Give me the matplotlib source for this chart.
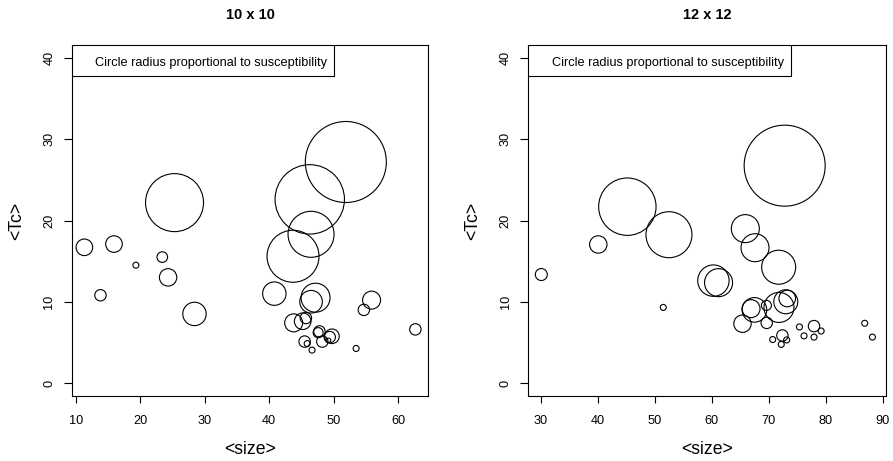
import matplotlib
matplotlib.use('Agg')
import numpy as np
from matplotlib import pyplot as plt
from matplotlib.patches import Rectangle

plt.rcParams['font.family'] = ['Liberation Sans', 'DejaVu Sans']

# lattice 10 x 10: mean cluster size, mean Tc, susceptibility (arbitrary units)
size_10 = [51.9, 46.3, 25.3, 46.5, 43.7, 11.3, 15.9, 19.3, 23.4, 24.3,
           13.8, 28.4, 40.8, 47.2, 46.5, 55.9, 54.7, 43.8, 45.2, 45.7,
           47.8, 47.6, 49.75, 49.4, 49.2, 48.25, 45.5, 45.9, 46.65, 53.5, 62.7]
tc_10 = [27.2, 22.6, 22.2, 18.3, 15.6, 16.7, 17.1, 14.5, 15.5, 13.0,
         10.8, 8.5, 11.0, 10.5, 10.0, 10.2, 9.0, 7.4, 7.6, 8.0,
         6.35, 6.2, 5.75, 5.65, 5.25, 5.1, 5.1, 4.85, 4.05, 4.25, 6.6]
chi_10 = [4.05, 3.47, 2.9, 2.3, 2.6, 0.83, 0.83, 0.3, 0.53, 0.87,
          0.57, 1.17, 1.17, 1.45, 1.13, 0.9, 0.57, 0.9, 0.83, 0.57,
          0.57, 0.5, 0.73, 0.57, 0.23, 0.57, 0.57, 0.3, 0.3, 0.3, 0.57]

# lattice 12 x 12
size_12 = [72.8, 45.2, 52.5, 65.9, 67.6, 71.75, 40.1, 30.1, 60.3, 61.2,
           51.5, 66.9, 67.5, 69.6, 71.8, 73.0, 73.25, 65.4, 69.65, 72.4,
           70.7, 72.2, 73.15, 75.4, 76.2, 77.95, 77.95, 79.2, 86.85, 88.2]
tc_12 = [26.75, 21.7, 18.25, 19.0, 16.65, 14.25, 17.05, 13.35, 12.6, 12.35,
         9.3, 9.15, 9.0, 9.55, 9.3, 10.0, 10.4, 7.3, 7.4, 5.85,
         5.35, 4.75, 5.3, 6.9, 5.8, 7.0, 5.65, 6.4, 7.35, 5.65]
chi_12 = [4.05, 2.87, 2.3, 1.4, 1.4, 1.7, 0.87, 0.6, 1.57, 1.4,
          0.3, 0.9, 1.23, 0.5, 1.5, 1.2, 0.83, 0.87, 0.57, 0.57,
          0.3, 0.3, 0.3, 0.3, 0.3, 0.57, 0.3, 0.3, 0.3, 0.3]

panels = [
    ('10 x 10', size_10, tc_10, chi_10, (9.38, 64.66), [10, 20, 30, 40, 50, 60]),
    ('12 x 12', size_12, tc_12, chi_12, (27.82, 90.53), [30, 40, 50, 60, 70, 80, 90]),
]

W, H = 893, 461
fig = plt.figure(figsize=(W / 100, H / 100), dpi=100)
boxes = [(72, 428), (528.3, 885.7)]
top, bottom = 45, 396

for (title, xs, ys, chi, xlim, xticks), (x0, x1) in zip(panels, boxes):
    ax = fig.add_axes([x0 / W, 1 - bottom / H, (x1 - x0) / W, (bottom - top) / H])
    # radius in pixels = 10 * chi, scatter size is diameter in points squared
    s = (2 * 10 * np.array(chi) * 0.72) ** 2
    ax.scatter(xs, ys, s=s, facecolors='none', edgecolors='black', linewidths=0.8)
    ax.set_xlim(*xlim)
    ax.set_ylim(-1.6, 41.6)
    ax.set_xticks(xticks)
    ax.set_yticks([0, 10, 20, 30, 40])
    ax.tick_params(axis='x', length=5, width=0.8, pad=8.5, labelsize=9.2)
    ax.tick_params(axis='y', length=6, width=0.8, pad=6, labelsize=9.2)
    for lab in ax.get_yticklabels():
        lab.set_rotation(90)
        lab.set_va('center')
    for sp in ax.spines.values():
        sp.set_linewidth(0.8)
    ax.set_title(title, fontsize=10.5, fontweight='bold', pad=18.5)
    ax.set_xlabel('<size>', fontsize=12.7, va='center')
    ax.xaxis.set_label_coords(0.5, -0.152)
    ax.set_ylabel('<Tc>', fontsize=12.7, va='center')
    ax.yaxis.set_label_coords(-55.5 / (x1 - x0), 0.5)
    bw = 262.4 / (x1 - x0)
    bh = 31 / (bottom - top)
    ax.add_patch(Rectangle((0, 1 - bh), bw, bh, transform=ax.transAxes,
                           facecolor='white', edgecolor='black', linewidth=0.8, zorder=3))
    ax.text(23.2 / (x1 - x0), 1 - 20.7 / (bottom - top),
            'Circle radius proportional to susceptibility',
            transform=ax.transAxes, fontsize=9.2, va='baseline', ha='left', zorder=4)

fig.savefig('out.png', dpi=100)
